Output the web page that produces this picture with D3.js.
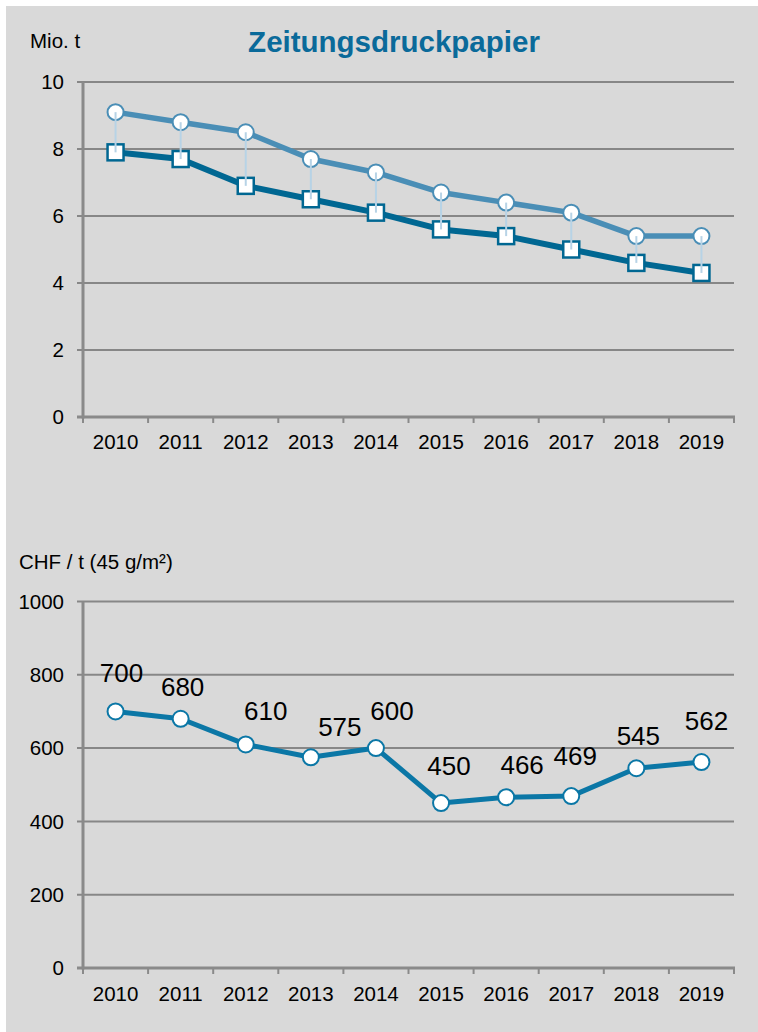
<!DOCTYPE html>
<html>
<head>
<meta charset="utf-8">
<script src="https://cdn.jsdelivr.net/npm/d3@7"></script>
<style>
  html, body { margin: 0; padding: 0; background: #ffffff; }
  svg { display: block; }
  text { font-family: "Liberation Sans", Arial, sans-serif; }
</style>
</head>
<body>
<script>
// ---------- data ----------
const years = ["2010","2011","2012","2013","2014","2015","2016","2017","2018","2019"];
const capacity = [9.1, 8.8, 8.5, 7.7, 7.3, 6.7, 6.4, 6.1, 5.4, 5.4];   // circles (upper)
const consumption = [7.9, 7.7, 6.9, 6.5, 6.1, 5.6, 5.4, 5.0, 4.6, 4.3]; // squares (lower)
const prices = [700, 680, 610, 575, 600, 450, 466, 469, 545, 562];
const topTicks = [0, 2, 4, 6, 8, 10];
const bottomTicks = [0, 200, 400, 600, 800, 1000];
const title = "Zeitungsdruckpapier";
const topUnit = "Mio. t";
const bottomUnit = "CHF / t (45 g/m²)";
// label nudges (layout only: dx, dy of label centre from its point)
const labelNudge = [[6,-39],[2,-32],[20,-34],[29,-30],[16,-37],[8,-37],[16,-32],[4,-40],[2,-32],[5,-41]];

// ---------- layout ----------
const W = 758, H = 1032;
const svg = d3.select("body").append("svg").attr("width", W).attr("height", H);
svg.append("rect").attr("x", 6).attr("y", 6).attr("width", W - 6).attr("height", H - 6).attr("fill", "#d9d9d9");

const C_DARK = "#006792";
const C_LIGHT = "#4a8eb6";
const C_PRICE = "#0b77a6";
const C_HL = "#b7d3e6";
const C_GRID = "#878787";
const C_AXIS = "#8a8a8a";
const FS = 20.5;

const x = d3.scaleBand().domain(years).range([83, 734]).paddingInner(0).paddingOuter(0);
const cx = d => x(d) + x.bandwidth() / 2;

function drawFrame(g, y, ticks, xLabelY) {
  g.selectAll("line.grid").data(ticks.filter(t => t !== 0)).join("line")
    .attr("x1", 77).attr("x2", 734)
    .attr("y1", d => y(d)).attr("y2", d => y(d))
    .attr("stroke", C_GRID).attr("stroke-width", 2);
  g.append("line").attr("x1", 83).attr("x2", 83)
    .attr("y1", y(ticks[ticks.length - 1])).attr("y2", y(0) + 1.5)
    .attr("stroke", C_AXIS).attr("stroke-width", 3);
  g.append("line").attr("x1", 77).attr("x2", 735)
    .attr("y1", y(0)).attr("y2", y(0))
    .attr("stroke", C_AXIS).attr("stroke-width", 3);
  const bounds = d3.range(years.length + 1).map(i => 83 + i * x.step());
  g.selectAll("line.xt").data(bounds).join("line")
    .attr("x1", d => d).attr("x2", d => d)
    .attr("y1", y(0)).attr("y2", y(0) + 6)
    .attr("stroke", C_AXIS).attr("stroke-width", 2);
  g.selectAll("text.yl").data(ticks).join("text")
    .attr("x", 64).attr("y", d => y(d)).attr("dy", "0.35em")
    .attr("text-anchor", "end").attr("font-size", FS).attr("fill", "#000")
    .text(d => d);
  const ax = d3.axisBottom(x).tickSize(0).tickPadding(0);
  const axg = g.append("g").attr("transform", `translate(0,${xLabelY})`).call(ax);
  axg.select(".domain").remove();
  axg.selectAll("text").attr("font-size", FS).attr("fill", "#000")
    .attr("font-family", "Liberation Sans, Arial, sans-serif").attr("dy", 0);
}

// ---------- top chart ----------
const yT = d3.scaleLinear().domain([0, 10]).range([417, 82]);
const gT = svg.append("g");
drawFrame(gT, yT, topTicks, 449);

gT.append("text").attr("x", 394).attr("y", 52).attr("text-anchor", "middle")
  .attr("font-size", 29.5).attr("font-weight", "bold").attr("fill", "#0a6a9a").text(title);
gT.append("text").attr("x", 30).attr("y", 48).attr("font-size", FS).attr("fill", "#000").text(topUnit);

const lineT = arr => d3.line().x((d, i) => cx(years[i])).y(d => yT(d))(arr);
gT.append("path").attr("d", lineT(capacity)).attr("fill", "none")
  .attr("stroke", C_LIGHT).attr("stroke-width", 5.5).attr("stroke-linejoin", "round");
gT.append("path").attr("d", lineT(consumption)).attr("fill", "none")
  .attr("stroke", C_DARK).attr("stroke-width", 6).attr("stroke-linejoin", "round");

gT.selectAll("circle.cap").data(capacity).join("circle")
  .attr("cx", (d, i) => cx(years[i])).attr("cy", d => yT(d)).attr("r", 8)
  .attr("fill", "#fff").attr("stroke", C_LIGHT).attr("stroke-width", 2);
gT.selectAll("rect.con").data(consumption).join("rect")
  .attr("x", (d, i) => cx(years[i]) - 8).attr("y", d => yT(d) - 8)
  .attr("width", 16).attr("height", 16)
  .attr("fill", "#fff").attr("stroke", C_DARK).attr("stroke-width", 2.5);
gT.selectAll("line.hl").data(capacity).join("line")
  .attr("x1", (d, i) => cx(years[i])).attr("x2", (d, i) => cx(years[i]))
  .attr("y1", d => yT(d)).attr("y2", (d, i) => yT(consumption[i]))
  .attr("stroke", C_HL).attr("stroke-width", 2);

// ---------- bottom chart ----------
const yB = d3.scaleLinear().domain([0, 1000]).range([968, 601.5]);
const gB = svg.append("g");
drawFrame(gB, yB, bottomTicks, 1001);
gB.append("text").attr("x", 19).attr("y", 569).attr("font-size", FS).attr("fill", "#000").text(bottomUnit);

gB.append("path").attr("d", d3.line().x((d, i) => cx(years[i])).y(d => yB(d))(prices))
  .attr("fill", "none").attr("stroke", C_PRICE).attr("stroke-width", 5).attr("stroke-linejoin", "round");
gB.selectAll("circle.pr").data(prices).join("circle")
  .attr("cx", (d, i) => cx(years[i])).attr("cy", d => yB(d)).attr("r", 8)
  .attr("fill", "#fff").attr("stroke", C_PRICE).attr("stroke-width", 2);
gB.selectAll("text.pl").data(prices).join("text")
  .attr("x", (d, i) => cx(years[i]) + labelNudge[i][0])
  .attr("y", (d, i) => yB(d) + labelNudge[i][1])
  .attr("dy", "0.35em").attr("text-anchor", "middle")
  .attr("font-size", 26).attr("fill", "#000").text(d => d);
</script>
</body>
</html>
